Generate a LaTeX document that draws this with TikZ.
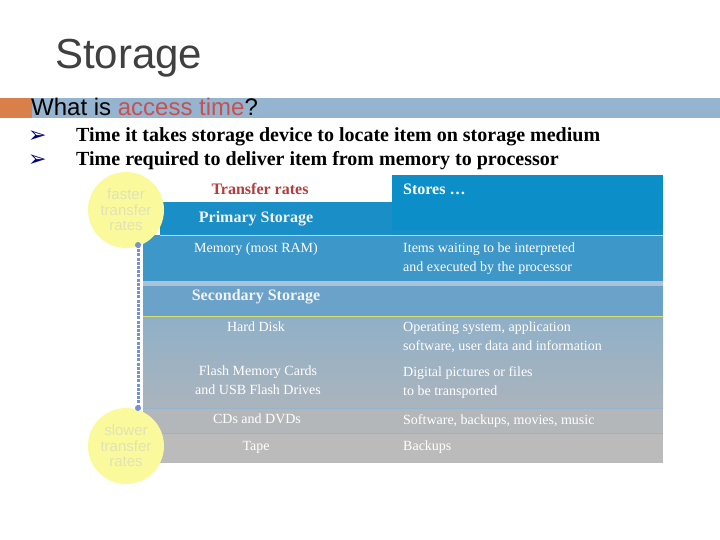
\documentclass[tikz,border=0pt]{standalone}
\usepackage{fontspec}
\setmainfont{Liberation Serif}
\setsansfont{Liberation Sans}
\newfontfamily\symfont{DejaVu Sans}
\usetikzlibrary{arrows.meta}
\definecolor{orng}{HTML}{D9804A}
\definecolor{barblue}{HTML}{94B4D0}
\definecolor{hdrblue}{HTML}{0C8FC8}
\definecolor{prim}{HTML}{1A8EC6}
\definecolor{memc}{HTML}{3D97C9}
\definecolor{secc}{HTML}{6BA2C9}
\definecolor{hdc}{HTML}{8FB0C8}
\definecolor{flc}{HTML}{ABB4BC}
\definecolor{cdc}{HTML}{B4B7BA}
\definecolor{tapec}{HTML}{BBBBBB}
\definecolor{ylw}{HTML}{FAFA9C}
\definecolor{redt}{HTML}{B83A3A}
\definecolor{acc}{HTML}{C8504F}
\definecolor{lnc}{HTML}{D8E070}
\definecolor{circt}{HTML}{E2E2B8}
\tikzset{
 cell/.style={font=\fontsize{14}{19}\selectfont, text=white, align=left, anchor=north west, inner sep=0},
 lcell/.style={font=\fontsize{14}{19}\selectfont, text=white, align=center, anchor=north, inner sep=0},
 circ/.style={circle, fill=ylw, minimum size=76pt, inner sep=0, align=center, text=circt, font=\sffamily\fontsize{15}{15.5}\selectfont},
 bul/.style={font=\bfseries\fontsize{20}{22}\selectfont, anchor=west, inner sep=0},
 bmark/.style={font=\symfont\fontsize{22}{24}\selectfont, text=blue!50!black, anchor=west, inner sep=0}
}
\begin{document}
\begin{tikzpicture}[x=1pt,y=-1pt]
\useasboundingbox (0,0) rectangle (720,540);
\node[anchor=west, font=\sffamily\fontsize{42}{46}\selectfont, text=black!75, inner sep=0] (title) at (55,58) {Storage};
\fill[orng] (0,98) rectangle (32,118);
\fill[barblue] (32,98) rectangle (720,118);
\node[anchor=west, font=\sffamily\fontsize{24}{26}\selectfont, inner sep=0] (q) at (31,107) {What is \textcolor{acc}{access time}?};
\node[bmark] (b1) at (28,137) {➢};
\node[bul] (t1) at (76,137) {Time it takes storage device to locate item on storage medium};
\node[bmark] (b2) at (28,161) {➢};
\node[bul] (t2) at (76,161) {Time required to deliver item from memory to processor};
% table
\fill[hdrblue] (392,175) rectangle (663,230);
\fill[prim] (160,202) rectangle (392,235);
\fill[prim!85!hdrblue] (392,230) rectangle (663,235);
\fill[memc] (143,235) rectangle (663,281);
\fill[barblue!80!white] (143,281) rectangle (663,286);
\fill[secc] (143,286) rectangle (663,316);
\shade[top color=hdc, bottom color=flc] (143,316) rectangle (663,408);
\fill[cdc] (143,408) rectangle (663,433);
\fill[tapec] (143,433) rectangle (663,463);
\draw[lnc, line width=1pt] (160,235) -- (663,235);
\draw[lnc, line width=1pt] (143,316) -- (663,316);
\draw[barblue, line width=0.6pt] (143,408) -- (663,408);
\draw[barblue, line width=0.6pt] (143,433) -- (663,433);
\node[font=\bfseries\fontsize{16}{18}\selectfont, text=redt, inner sep=0] (tr) at (260,189) {Transfer rates};
\node[font=\bfseries\fontsize{16}{18}\selectfont, text=white, anchor=west, inner sep=0] (st) at (403,189) {Stores \dots};
\node[font=\bfseries\fontsize{16}{18}\selectfont, text=white!90!gray, inner sep=0] (ps) at (256,219) {Primary Storage};
\node[font=\bfseries\fontsize{16}{18}\selectfont, text=white!90!gray, inner sep=0] (ss) at (256,297) {Secondary Storage};
\node[lcell] (m1) at (256,243) {Memory (most RAM)};
\node[cell] (m2) at (403,243) {Items waiting to be interpreted\\and executed by the processor};
\node[lcell] (h1) at (256,322) {Hard Disk};
\node[cell] (h2) at (403,322) {Operating system, application\\software, user data and information};
\node[lcell] (f1) at (258,366) {Flash Memory Cards\\and USB Flash Drives};
\node[cell] (f2) at (403,366) {Digital pictures or files\\to be transported};
\node[lcell] (c1) at (257,414) {CDs and DVDs};
\node[cell] (c2) at (403,414) {Software, backups, movies, music};
\node[lcell] (tp1) at (256,441) {Tape};
\node[cell] (tp2) at (403,441) {Backups};
% circles
\node[circ] (fast) at (126,210) {faster\\transfer\\rates};
\node[circ] (slow) at (126,446) {slower\\transfer\\rates};
\coordinate (da) at (138,245);
\coordinate (db) at (138,408);
\draw[barblue!80!blue, line width=3pt, dash pattern=on 3pt off 1.2pt] (da) -- (db);
\fill[barblue!80!blue] (da) circle (3pt) (db) circle (3pt);
\end{tikzpicture}
\end{document}
